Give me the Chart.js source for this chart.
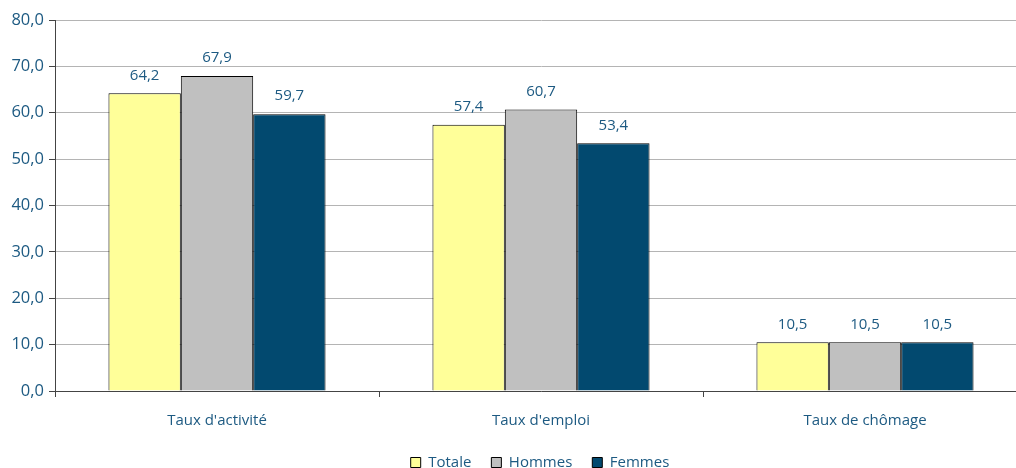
<!DOCTYPE html>
<html>
<head>
<meta charset="utf-8">
<script src="https://cdn.jsdelivr.net/npm/chart.js@4/dist/chart.umd.min.js"></script>
<style>
html,body{margin:0;padding:0;overflow:hidden;background:#fff;}
#wrap{position:relative;width:1016px;height:468px;overflow:hidden;}
canvas{position:absolute;left:0;top:0;}
</style>
</head>
<body>
<div id="wrap"><canvas id="c" width="1080" height="480"></canvas></div>
<script>
const categories = ["Taux d'activité", "Taux d'emploi", "Taux de chômage"];
const seriesNames = ["Totale", "Hommes", "Femmes"];
const totale = [64.2, 57.4, 10.5];
const hommes = [67.9, 60.7, 10.5];
const femmes = [59.7, 53.4, 10.5];
const yTicks = [0, 10, 20, 30, 40, 50, 60, 70, 80];

const textColor = '#1d5a82';
const fontFam = "'Open Sans', sans-serif";
const fmt = v => v.toFixed(1).replace('.', ',');

const labelPlugin = {
  id: 'valueLabels',
  afterDatasetsDraw(chart) {
    const ctx = chart.ctx;
    ctx.save();
    ctx.fillStyle = textColor;
    ctx.font = "15px " + fontFam;
    ctx.textAlign = 'center';
    ctx.textBaseline = 'middle';
    chart.data.datasets.forEach((ds, i) => {
      const meta = chart.getDatasetMeta(i);
      meta.data.forEach((bar, j) => {
        ctx.fillText(fmt(ds.data[j]), bar.x, bar.y - 18);
      });
    });
    ctx.restore();
  }
};

new Chart(document.getElementById('c'), {
  type: 'bar',
  data: {
    labels: categories,
    datasets: [
      {label: seriesNames[0], data: totale, backgroundColor: '#FFFF99', borderColor: '#000000', borderWidth: 1},
      {label: seriesNames[1], data: hommes, backgroundColor: '#C0C0C0', borderColor: '#000000', borderWidth: 1},
      {label: seriesNames[2], data: femmes, backgroundColor: '#02496F', borderColor: '#000000', borderWidth: 1}
    ]
  },
  options: {
    responsive: false,
    animation: false,
    layout: {padding: {top: 20, right: 0, bottom: 0, left: 0}},
    datasets: {bar: {categoryPercentage: 0.67, barPercentage: 1.0}},
    plugins: {
      legend: {
        position: 'bottom',
        labels: {
          color: textColor,
          font: {family: fontFam, size: 15},
          boxWidth: 10, boxHeight: 10,
          padding: 20
        }
      },
      tooltip: {enabled: false}
    },
    scales: {
      x: {
        grid: {display: true, drawOnChartArea: false, drawTicks: true, tickLength: 6, color: '#444444', offset: true},
        border: {display: true, color: '#444444'},
        ticks: {color: textColor, font: {family: fontFam, size: 15}, padding: 15},
        afterFit(scale) { scale.height = 44; }
      },
      y: {
        min: 0, max: 80,
        afterBuildTicks(scale) { scale.ticks = yTicks.map(v => ({value: v})); },
        grid: {color: '#b4b4b4', tickLength: 6, tickColor: '#444444'},
        border: {display: true, color: '#444444'},
        ticks: {color: textColor, font: {family: fontFam, size: 16.5}, padding: 5, callback: v => fmt(v)},
        afterFit(scale) { scale.width = 55; }
      },
      yRight: {
        position: 'right',
        min: 0, max: 1,
        grid: {display: false, drawTicks: false},
        border: {display: false},
        ticks: {display: false},
        afterFit(scale) { scale.width = 53; }
      }
    }
  },
  plugins: [labelPlugin]
});
</script>
</body>
</html>
